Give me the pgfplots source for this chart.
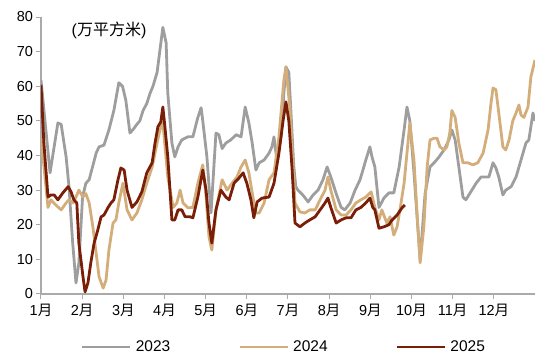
\documentclass[border=0pt]{standalone}
\usepackage{fontspec}
\setmainfont{Liberation Sans}
\newfontfamily\cjk{Noto Sans CJK SC}
\usepackage{pgfplots}
\pgfplotsset{compat=1.18}
\definecolor{c23}{RGB}{158,158,158}
\definecolor{c24}{RGB}{212,174,122}
\definecolor{c25}{RGB}{122,30,8}
\definecolor{axc}{RGB}{170,170,170}
\begin{document}
\fontsize{14.5}{17}\selectfont
\begin{tikzpicture}
\useasboundingbox (-41pt,-65pt) rectangle (509pt,294pt);
\begin{axis}[
  scale only axis, width=494pt, height=277pt, at={(0,0)}, anchor=south west,
  xmin=0, xmax=12, ymin=0, ymax=80,
  axis x line*=bottom, axis y line*=left,
  xtick={0,...,11},
  xticklabels={1{\cjk 月},2{\cjk 月},3{\cjk 月},4{\cjk 月},5{\cjk 月},6{\cjk 月},7{\cjk 月},8{\cjk 月},9{\cjk 月},10{\cjk 月},11{\cjk 月},12{\cjk 月}},
  ytick={0,10,...,80},
  tick align=outside, major tick length=5pt,
  tick style={axc, line width=1pt},
  axis line style={axc, line width=1.3pt},
  yticklabel style={xshift=2pt},
  every tick label/.append style={font=\fontsize{14.5}{17}\selectfont, text=black},
  /pgf/number format/assume math mode=true,
  legend columns=3,
  legend style={draw=none, fill=none, at={(0.5,0)}, anchor=center, yshift=-53pt, xshift=-3pt,
    font=\fontsize{15.5}{18}\selectfont,
    nodes={inner xsep=4pt},
    /tikz/every even column/.append style={column sep=64pt}},
  legend image code/.code={\draw[#1] (0pt,0pt) -- (48pt,0pt);},
]
\addplot[c23, line width=2.8pt, line join=round] coordinates {
(0,61.8)(0.22,35)(0.41,49.4)(0.49,49)(0.61,39.6)(0.68,31)(0.77,14.7)(0.85,3.2)(0.92,9)(1.01,28)(1.09,32)(1.17,33)(1.34,40.7)(1.41,42.5)(1.53,43)(1.65,47.4)(1.77,53)(1.89,61)(1.98,60)(2.06,56)(2.16,46.5)(2.23,47.4)(2.33,49)(2.40,50)(2.48,53)(2.57,55)(2.65,58)(2.72,60)(2.82,64)(2.89,70.5)(2.96,77)(3.04,72.5)(3.08,58)(3.18,43.6)(3.25,39.6)(3.33,42.5)(3.42,44.5)(3.57,45.4)(3.69,45.4)(3.81,51)(3.89,53.8)(3.93,50)(4.03,39.6)(4.13,23.4)(4.25,46.5)(4.32,46)(4.40,42)(4.49,43.6)(4.61,44.5)(4.74,46)(4.86,45.4)(4.96,54)(5.05,49.4)(5.13,43.6)(5.22,35.8)(5.30,37.9)(5.42,38.7)(5.54,40.7)(5.61,42.5)(5.66,45.4)(5.73,38.7)(5.83,45.4)(5.90,58)(5.95,65.6)(6.02,64)(6.07,53)(6.14,37)(6.19,31)(6.24,30)(6.36,28.6)(6.49,26.6)(6.61,28.6)(6.73,30)(6.85,33)(6.95,36.7)(7.04,33.8)(7.17,29)(7.29,25)(7.38,24.3)(7.51,26.3)(7.63,30)(7.75,33)(7.82,35.8)(7.89,38.7)(7.99,42.5)(8.04,39.6)(8.11,36.7)(8.21,25)(8.33,27.7)(8.45,29.2)(8.57,29.2)(8.70,36.7)(8.82,47.4)(8.89,54)(8.96,50)(9.06,35)(9.21,9.8)(9.33,29)(9.45,36.7)(9.55,37.9)(9.67,39.6)(9.79,41.6)(9.91,44.5)(9.98,47.4)(10.06,44.5)(10.15,36.7)(10.25,28)(10.32,27.2)(10.44,29.5)(10.57,32)(10.69,33.8)(10.81,33.8)(10.88,33.8)(10.98,37.9)(11.05,36.4)(11.12,33.8)(11.22,28.6)(11.29,30)(11.42,31)(11.54,33.8)(11.66,38.7)(11.78,43.6)(11.85,44.5)(11.90,48.3)(11.95,52.3)(12.00,50)
};
\addlegendentry{2023}
\addplot[c24, line width=2.8pt, line join=round] coordinates {
(0,45.4)(0.17,25)(0.24,27.2)(0.36,25.7)(0.49,24.3)(0.61,26.3)(0.68,27.2)(0.78,26.3)(0.85,28)(0.92,30)(1.02,28)(1.09,29)(1.17,26.3)(1.26,19.4)(1.34,11.8)(1.41,5)(1.51,1.7)(1.58,4)(1.65,12.7)(1.75,20.5)(1.82,21.4)(1.89,26.3)(1.99,32)(2.09,24.3)(2.21,21.4)(2.33,23.4)(2.45,27.2)(2.57,32)(2.70,36.7)(2.82,43.6)(2.89,47.4)(2.96,49.4)(3.08,33.8)(3.21,25)(3.30,26.3)(3.38,30)(3.45,26.3)(3.57,24.9)(3.69,25)(3.81,32)(3.93,37.3)(4.01,28)(4.08,16.5)(4.15,12.7)(4.25,24.3)(4.40,33)(4.52,30)(4.64,32)(4.76,33.8)(4.86,36.7)(4.96,38.7)(5.05,35)(5.13,29.2)(5.22,23.4)(5.30,23.4)(5.42,26.3)(5.54,33)(5.66,35)(5.78,45.4)(5.90,61.8)(5.95,65.6)(6.05,53)(6.12,37)(6.17,26.3)(6.29,23.7)(6.41,23.4)(6.53,24.3)(6.66,24.3)(6.78,27.2)(6.90,30)(6.97,33.8)(7.04,30)(7.17,24.3)(7.29,22.8)(7.41,22.8)(7.53,24.3)(7.65,26.3)(7.77,27.2)(7.89,28)(8.02,29.5)(8.11,25)(8.21,21.4)(8.28,24.3)(8.40,20.5)(8.48,22.3)(8.57,17)(8.65,19.4)(8.72,24.3)(8.82,32)(8.89,40.7)(8.96,49.4)(9.06,38.7)(9.13,24.3)(9.21,9)(9.30,19.4)(9.38,36.7)(9.45,44.5)(9.55,45)(9.62,45)(9.69,42.5)(9.79,41.6)(9.86,42.5)(9.93,46.5)(9.98,53)(10.06,51)(10.15,43.6)(10.25,37.9)(10.37,37.9)(10.49,37.3)(10.61,37.9)(10.74,40.7)(10.86,47.4)(10.93,55)(10.98,59.5)(11.05,59)(11.12,52.3)(11.22,42.5)(11.29,41.6)(11.37,44.5)(11.46,50)(11.54,52.3)(11.61,54.6)(11.66,51.7)(11.73,51)(11.83,54)(11.90,62.7)(12.00,67.6)
};
\addlegendentry{2024}
\addplot[c25, line width=2.8pt, line join=round] coordinates {
(0,60.4)(0.07,43.6)(0.17,28)(0.24,28.6)(0.32,28.6)(0.41,27.2)(0.53,29.2)(0.66,31)(0.73,29.5)(0.80,27.2)(0.87,26.3)(0.92,14.7)(1.02,5)(1.07,0.6)(1.14,3.2)(1.21,9)(1.29,14.7)(1.38,18.5)(1.46,22.3)(1.53,22.8)(1.63,25)(1.70,26.3)(1.77,27.2)(1.87,33)(1.94,36.4)(2.02,35.8)(2.09,30)(2.21,25)(2.33,26.6)(2.45,29.5)(2.57,35)(2.70,37.9)(2.77,43.6)(2.84,48.3)(2.91,49.7)(2.96,54)(3.01,48.3)(3.08,39.6)(3.18,21.4)(3.25,21.4)(3.33,24.3)(3.42,24.3)(3.50,22.3)(3.62,22.3)(3.69,22)(3.81,28)(3.93,35.8)(4.01,30)(4.08,20.5)(4.15,14.7)(4.25,24.3)(4.37,30)(4.49,28)(4.57,27.2)(4.69,32)(4.81,33.5)(4.91,35)(5.00,32)(5.10,27.2)(5.17,22)(5.25,26.6)(5.37,27.7)(5.54,28)(5.66,32)(5.78,40.7)(5.88,50)(5.95,55.5)(6.02,50)(6.10,36)(6.17,20.5)(6.29,19.4)(6.41,20.5)(6.53,21.4)(6.66,22.3)(6.78,24.3)(6.90,26.3)(6.97,27.7)(7.04,25)(7.17,20.5)(7.29,21.4)(7.41,22)(7.53,22)(7.65,24.3)(7.77,25)(7.89,26.3)(7.99,27.7)(8.06,25)(8.11,24.3)(8.21,19)(8.33,19.4)(8.45,20)(8.53,21.4)(8.65,22.8)(8.77,24.9)(8.84,25.7)
};
\addlegendentry{2025}
\node[anchor=west, font=\fontsize{16}{19}\selectfont] at (rel axis cs:0.052,0.953) {({\cjk 万平方米})};
\end{axis}
\end{tikzpicture}
\end{document}
